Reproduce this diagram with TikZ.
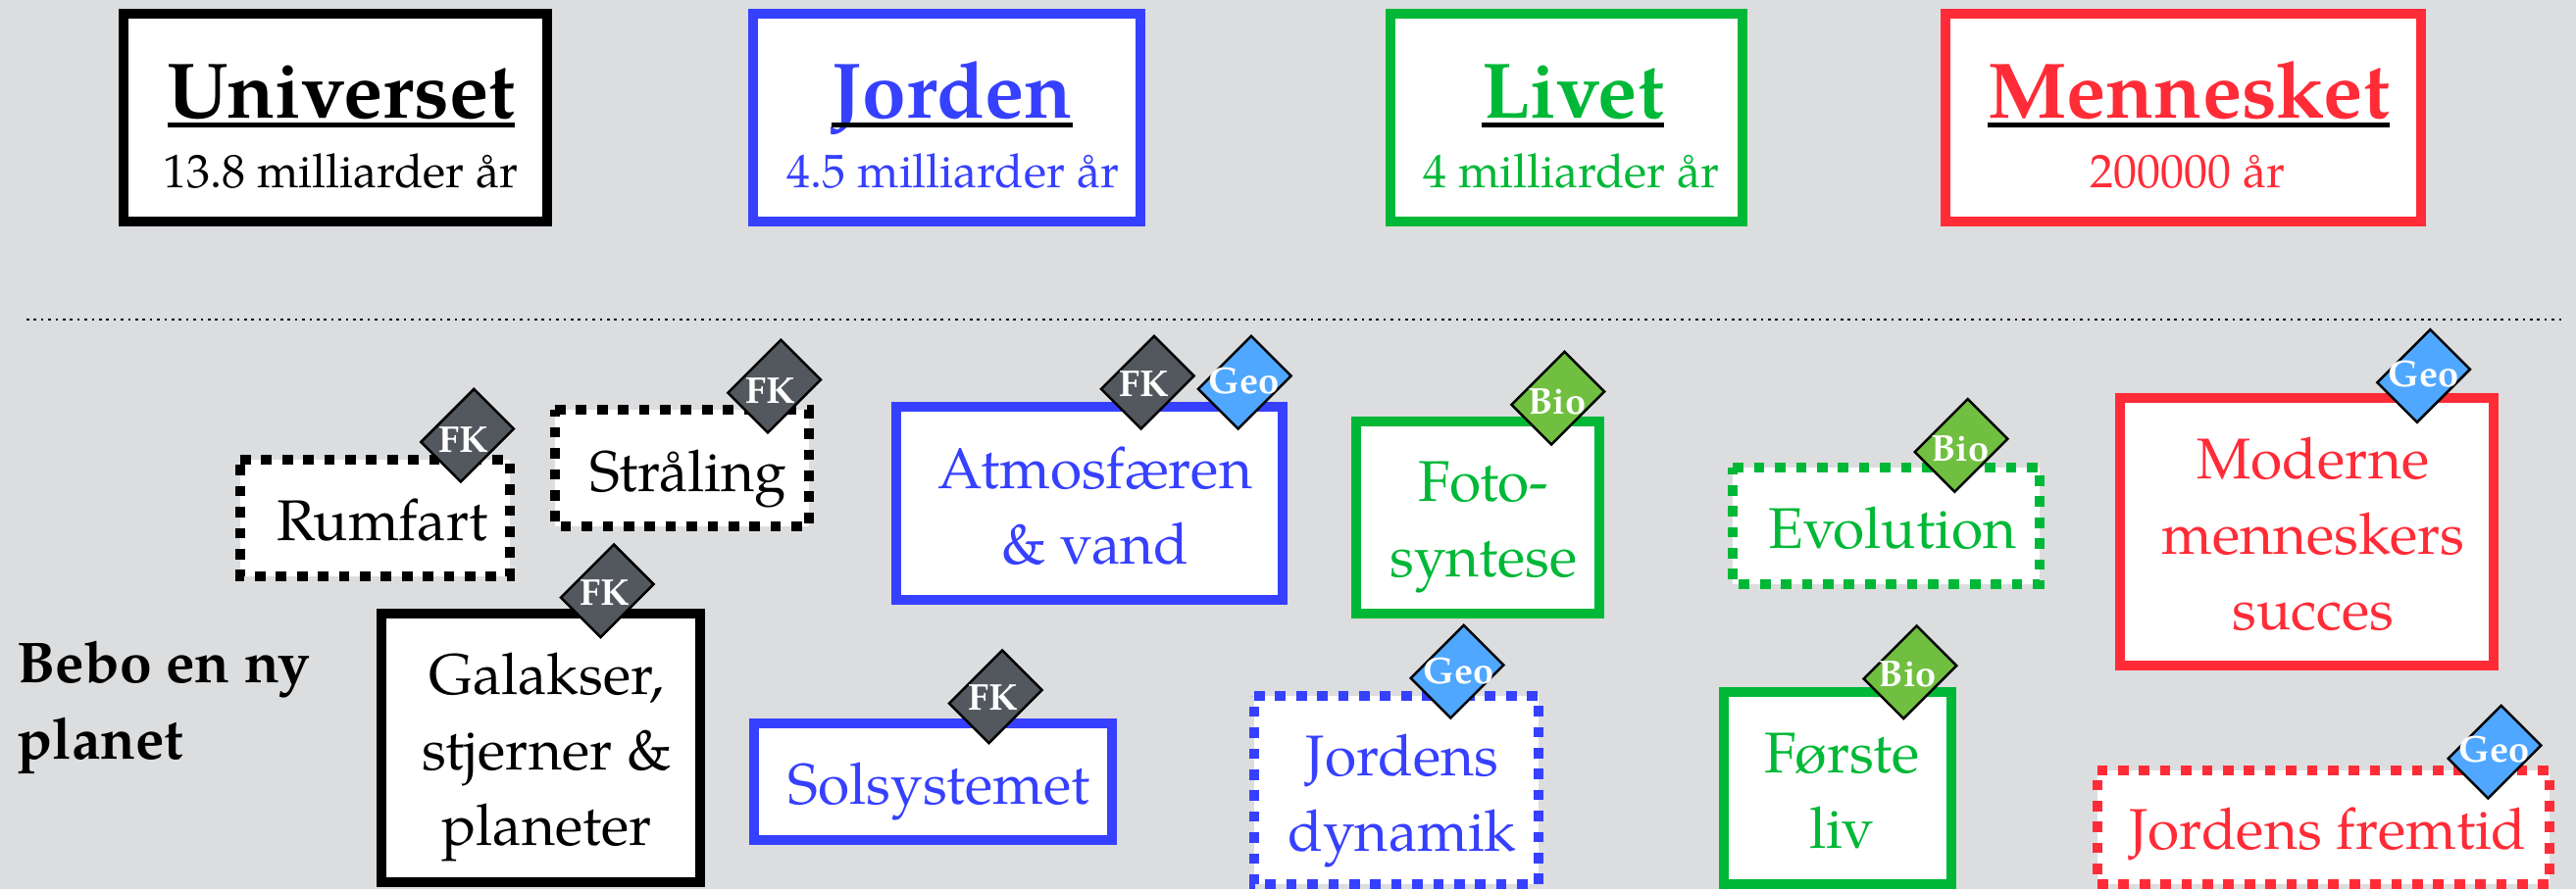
\documentclass[tikz,border=0pt]{standalone}
\usepackage{fontspec}
\setmainfont{TeX Gyre Pagella}
\definecolor{bgc}{HTML}{DCDDDF}
\definecolor{bluec}{HTML}{3640FF}
\definecolor{greenc}{HTML}{00B837}
\definecolor{redc}{HTML}{FF2C37}
\definecolor{fkc}{HTML}{53585F}
\definecolor{geoc}{HTML}{4FA7FF}
\definecolor{bioc}{HTML}{70BF41}
\tikzset{
  x=0.5pt,y=-0.5pt,
  framebox/.style={fill=white,line width=5pt,inner sep=0pt,outer sep=0pt,draw=#1},
  plainbox/.style={fill=white,draw=none,inner sep=0pt,outer sep=0pt},
  dotborder/.style={draw=#1,line width=5pt,dash pattern=on 5.35pt off 5.35pt},
  maintext/.style={text=#1,anchor=base,inner sep=0pt,outer sep=0pt,align=center,font=\fontsize{29.3}{38.5}\selectfont},
  titletext/.style={text=#1,anchor=base,inner sep=0pt,outer sep=0pt,font=\fontsize{40.2}{48}\selectfont\bfseries},
  subtext/.style={text=#1,anchor=base,inner sep=0pt,outer sep=0pt,font=\fontsize{24}{28}\selectfont},
  tagshape/.style={fill=#1,draw=black,line width=1.25pt,rotate=45,minimum width=38.2pt,minimum height=28.7pt,inner sep=0pt,outer sep=0pt,line join=miter},
  tagtext/.style={text=white,anchor=base,inner sep=0pt,outer sep=0pt,font=\fontsize{19}{22}\selectfont\bfseries},
  underl/.style={draw=black,line width=2.5pt},
}
\newcommand{\solidbox}[6]{%
  \pgfmathsetmacro\bw{(#4-#2)*0.5}\pgfmathsetmacro\bh{(#5-#3)*0.5}%
  \pgfmathsetmacro\bcx{(#4+#2)*0.5}\pgfmathsetmacro\bcy{(#5+#3)*0.5}%
  \node[framebox=#6,minimum width=\bw pt,minimum height=\bh pt] (#1) at (\bcx,\bcy) {};}
\newcommand{\dotbox}[6]{%
  \pgfmathsetmacro\bw{(#4-#2)*0.5}\pgfmathsetmacro\bh{(#5-#3)*0.5}%
  \pgfmathsetmacro\bcx{(#4+#2)*0.5}\pgfmathsetmacro\bcy{(#5+#3)*0.5}%
  \node[plainbox,minimum width=\bw pt,minimum height=\bh pt] (#1) at (\bcx,\bcy) {};
  \draw[dotborder=#6] (#1.north west) -- (#1.north east) -- (#1.south east) -- (#1.south west) -- cycle;}
\newcommand{\tagmark}[6]{% name cx cy colour text tx,ty
  \node[tagshape=#4] (#1) at (#2,#3) {};
  \node[tagtext] (#1t) at (#6) {#5};}
\begin{document}
\begin{tikzpicture}
\useasboundingbox (0,0) rectangle (2627,907);
\fill[bgc] (0,0) rectangle (2627,907);
% headers
\solidbox{univ}{126}{14}{557.5}{226}{black}
\solidbox{jord}{768}{14}{1163}{226}{bluec}
\solidbox{liv}{1418}{14}{1777}{226}{greenc}
\solidbox{men}{1983.6}{14}{2468.6}{226}{redc}
\node[titletext=black] (univt) at (348,120) {Universet};
\node[titletext=bluec] (jordt) at (971,120) {Jorden};
\node[titletext=greenc] (livt) at (1604,120) {Livet};
\node[titletext=redc] (ment) at (2232,120) {Mennesket};
\foreach \n in {univt,jordt,livt,ment}
  \draw[underl] ([yshift=-3.75pt]\n.base west) -- ([yshift=-3.75pt]\n.base east);
\node[subtext=black] (univs) at (347.5,191) {13.8 milliarder år};
\node[subtext=bluec] (jords) at (972,191) {4.5 milliarder år};
\node[subtext=greenc] (livs) at (1602.5,191) {4 milliarder år};
\node[subtext=redc] (mens) at (2231,191) {200000 år};
% divider
\coordinate (divl) at (27,326);
\coordinate (divr) at (2614,326);
\draw[black,line width=1.25pt,dash pattern=on 1.25pt off 2.45pt] (divl) -- (divr);
% left label
\node[anchor=base west,inner sep=0pt,outer sep=0pt,align=left,font=\fontsize{29.4}{38.8}\selectfont\bfseries] (bebo) at (17.5,774.3) {Bebo en ny\\planet};
% boxes
\dotbox{rum}{245}{469}{519.5}{587.7}{black}
\dotbox{stra}{566}{418}{825}{537}{black}
\solidbox{gal}{388.6}{626.3}{714.4}{900}{black}
\solidbox{atm}{914}{415.3}{1307.7}{611.7}{bluec}
\solidbox{sol}{768.5}{738}{1134}{856.7}{bluec}
\dotbox{jd}{1279}{710}{1568.5}{902}{bluec}
\solidbox{foto}{1382.7}{430}{1631}{626}{greenc}
\dotbox{evo}{1767.3}{476.7}{2080}{595.7}{greenc}
\solidbox{forste}{1758}{705.7}{1990}{902}{greenc}
\solidbox{mod}{2161.7}{406}{2543}{679}{redc}
\dotbox{jf}{2138.5}{786}{2599.7}{902}{redc}
% texts (anchor base = last line)
\node[maintext=black] (rumt) at (390,551) {Rumfart};
\node[maintext=black] (strat) at (702,501) {Stråling};
\node[maintext=black] (galt) at (557.5,862.7) {Galakser,\\stjerner \&\\planeter};
\node[maintext=bluec] (atmt) at (1117,575) {Atmosfæren\\\& vand};
\node[maintext=bluec] (solt) at (957.5,820) {Solsystemet};
\node[maintext=bluec] (jdt) at (1430,868) {Jordens\\dynamik};
\node[maintext=greenc] (fotot) at (1513,588) {Foto-\\syntese};
\node[maintext=greenc] (evot) at (1929.7,559) {Evolution};
\node[maintext=greenc] (forstet) at (1878.5,865) {Første\\liv};
\node[maintext=redc] (modt) at (2359,642) {Moderne\\menneskers\\succes};
\node[maintext=redc] (jft) at (2374,866) {Jordens fremtid};
% tags
\tagmark{fka}{476.6}{444.2}{fkc}{FK}{473,461}
\tagmark{fkb}{789.7}{394}{fkc}{FK}{786,411}
\tagmark{fkc}{619.3}{602.8}{fkc}{FK}{617,617.7}
\tagmark{fkd}{1170.3}{390.2}{fkc}{FK}{1167,404}
\tagmark{geoa}{1269.3}{390.2}{geoc}{Geo}{1268.5,401.7}
\tagmark{fke}{1015.3}{710.8}{fkc}{FK}{1012.7,724}
\tagmark{geob}{1486}{685.2}{geoc}{Geo}{1487.5,697}
\tagmark{bioa}{1588.8}{406.2}{bioc}{Bio}{1588,422.7}
\tagmark{biob}{2000}{454.4}{bioc}{Bio}{1999,470}
\tagmark{bioc}{1947.9}{685.8}{bioc}{Bio}{1945.5,700.7}
\tagmark{geoc}{2471.6}{383.5}{geoc}{Geo}{2471.5,394}
\tagmark{geod}{2544}{767.2}{geoc}{Geo}{2543.5,777.5}
\end{tikzpicture}
\end{document}
